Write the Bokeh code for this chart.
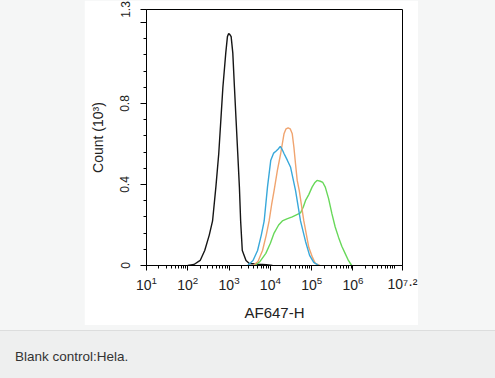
from bokeh.plotting import figure
from bokeh.models import FixedTicker, LogTickFormatter, Div
from bokeh.layouts import column
from bokeh.embed import file_html
from bokeh.resources import INLINE

# ---- data: x as log10(AF647-H), y as Count (10^3) ----
black_x = [2.0, 2.15, 2.3, 2.41, 2.52, 2.6, 2.68, 2.75, 2.8, 2.85, 2.92, 2.96, 2.99, 3.02, 3.05,
           3.09, 3.13, 3.17, 3.21, 3.25, 3.28, 3.32, 3.41, 3.49, 3.7, 3.9, 4.05]
black_y = [0.0, 0.005, 0.025, 0.074, 0.15, 0.22, 0.387, 0.553, 0.716, 0.88, 1.05, 1.13, 1.145, 1.14, 1.13,
           1.05, 0.88, 0.716, 0.553, 0.387, 0.22, 0.074, 0.025, 0.01, 0.006, 0.004, 0.0]

blue_x = [3.45, 3.58, 3.69, 3.78, 3.85, 3.93, 4.01, 4.08, 4.14, 4.19, 4.24, 4.28, 4.33, 4.41, 4.49,
          4.61, 4.73, 4.85, 4.95, 5.05, 5.17]
blue_y = [0.0, 0.025, 0.074, 0.15, 0.22, 0.387, 0.52, 0.555, 0.565, 0.575, 0.588, 0.575, 0.553, 0.52, 0.485,
          0.37, 0.22, 0.12, 0.05, 0.015, 0.0]

orange_x = [3.58, 3.7, 3.81, 3.9, 3.97, 4.03, 4.09, 4.17, 4.25, 4.33, 4.38, 4.43, 4.48, 4.53, 4.57,
            4.61, 4.65, 4.7, 4.81, 4.93, 5.02, 5.09, 5.2]
orange_y = [0.0, 0.02, 0.074, 0.15, 0.22, 0.3, 0.37, 0.47, 0.553, 0.65, 0.675, 0.68, 0.675, 0.65, 0.584,
            0.5, 0.42, 0.37, 0.22, 0.09, 0.04, 0.01, 0.0]

green_x = [3.62, 3.75, 3.89, 4.0, 4.09, 4.2, 4.29, 4.4, 4.53, 4.63, 4.73, 4.8, 4.85, 4.93, 5.01,
           5.08, 5.13, 5.21, 5.27, 5.33, 5.41, 5.49, 5.57, 5.65, 5.73, 5.81, 5.89, 5.97]
green_y = [0.0, 0.02, 0.06, 0.11, 0.16, 0.2, 0.22, 0.23, 0.24, 0.25, 0.26, 0.29, 0.32, 0.35, 0.387,
           0.41, 0.42, 0.416, 0.41, 0.387, 0.33, 0.256, 0.19, 0.14, 0.095, 0.06, 0.025, 0.0]

x_tick_exponents = [1, 2, 3, 4, 5, 6, 7.2]
x_end_label = "10\u2077\u00b7\u00b2"   # 10^7.2 at the axis end
y_ticks = [0, 0.4, 0.8, 1.2, 1.264]
y_tick_labels = {0: "0", 0.4: "0.4", 0.8: "0.8", 1.2: "", 1.264: "1.3"}
y_minor_ticks = [0.08, 0.16, 0.24, 0.32, 0.48, 0.56, 0.64, 0.72, 0.88, 0.96, 1.04, 1.12]
caption_text = "Blank control:Hela."

FONT = "Liberation Sans"
TXT = "#222222"

p = figure(frame_width=256, frame_height=256, x_axis_type="log",
           x_range=(10 ** 1, 10 ** 7.2), y_range=(0, 1.264),
           output_backend="svg", toolbar_location=None,
           min_border_left=62, min_border_right=16, min_border_top=9, min_border_bottom=60,
           margin=(0, 0, 0, 84), border_fill_color="white", background_fill_color="white",
           outline_line_color="black", outline_line_width=1)
p.grid.visible = False

series = [(black_x, black_y, "#151515"), (green_x, green_y, "#68d85a"),
          (orange_x, orange_y, "#f0a46f"), (blue_x, blue_y, "#38a8da")]
for xs, ys, c in series:
    p.line([10 ** e for e in xs], ys, line_color=c, line_width=1.4)

# x axis (log, decades)
major_vals = [10 ** e for e in x_tick_exponents]
xminor = []
for n in range(1, 8):
    for k in range(2, 11):
        v = k * 10 ** n
        if v < 10 ** 7.2 and v not in major_vals:
            xminor.append(v)
p.xaxis.ticker = FixedTicker(ticks=major_vals, minor_ticks=xminor)
p.xaxis.formatter = LogTickFormatter()
p.xaxis.major_label_overrides = {major_vals[-1]: x_end_label}
p.xaxis.major_label_text_font = FONT
p.xaxis.major_label_text_font_size = "14px"
p.xaxis.major_label_text_color = TXT
p.xaxis.major_label_standoff = 5
p.xaxis.axis_label = "AF647-H"
p.xaxis.axis_label_text_font = FONT
p.xaxis.axis_label_text_font_size = "15px"
p.xaxis.axis_label_text_font_style = "normal"
p.xaxis.axis_label_text_color = TXT
p.xaxis.axis_label_standoff = 9
p.xaxis.major_tick_in = 0
p.xaxis.major_tick_out = 5
p.xaxis.minor_tick_in = 0
p.xaxis.minor_tick_out = 3
p.xaxis.axis_line_color = "black"

# y axis
p.yaxis.ticker = FixedTicker(ticks=y_ticks, minor_ticks=y_minor_ticks)
p.yaxis.major_label_overrides = y_tick_labels
p.yaxis.major_label_orientation = "vertical"
p.yaxis.major_label_text_font = FONT
p.yaxis.major_label_text_font_size = "12px"
p.yaxis.major_label_text_color = TXT
p.yaxis.major_label_standoff = 11
p.yaxis.major_tick_in = 0
p.yaxis.major_tick_out = 6
p.yaxis.minor_tick_in = 0
p.yaxis.minor_tick_out = 3
p.yaxis.axis_label = "Count (10\u00b3)"
p.yaxis.axis_label_text_font = FONT
p.yaxis.axis_label_text_font_size = "14px"
p.yaxis.axis_label_text_font_style = "normal"
p.yaxis.axis_label_text_color = TXT
p.yaxis.axis_label_standoff = 12

caption = Div(text='<div style="padding:16px 0 0 15px; font-family:\'Liberation Sans\'; '
                   'font-size:13.5px; color:#333333;">' + caption_text + '</div>',
              width=495, height=48, margin=(5, 0, 0, 0),
              styles={"background-color": "#eeefef", "border-top": "1px solid #dcdddd",
                      "box-sizing": "border-box"})

layout = column(p, caption, width=495, height=378, styles={"background-color": "#f5f6f6"})

open("out.html", "w").write(file_html(layout, INLINE))
